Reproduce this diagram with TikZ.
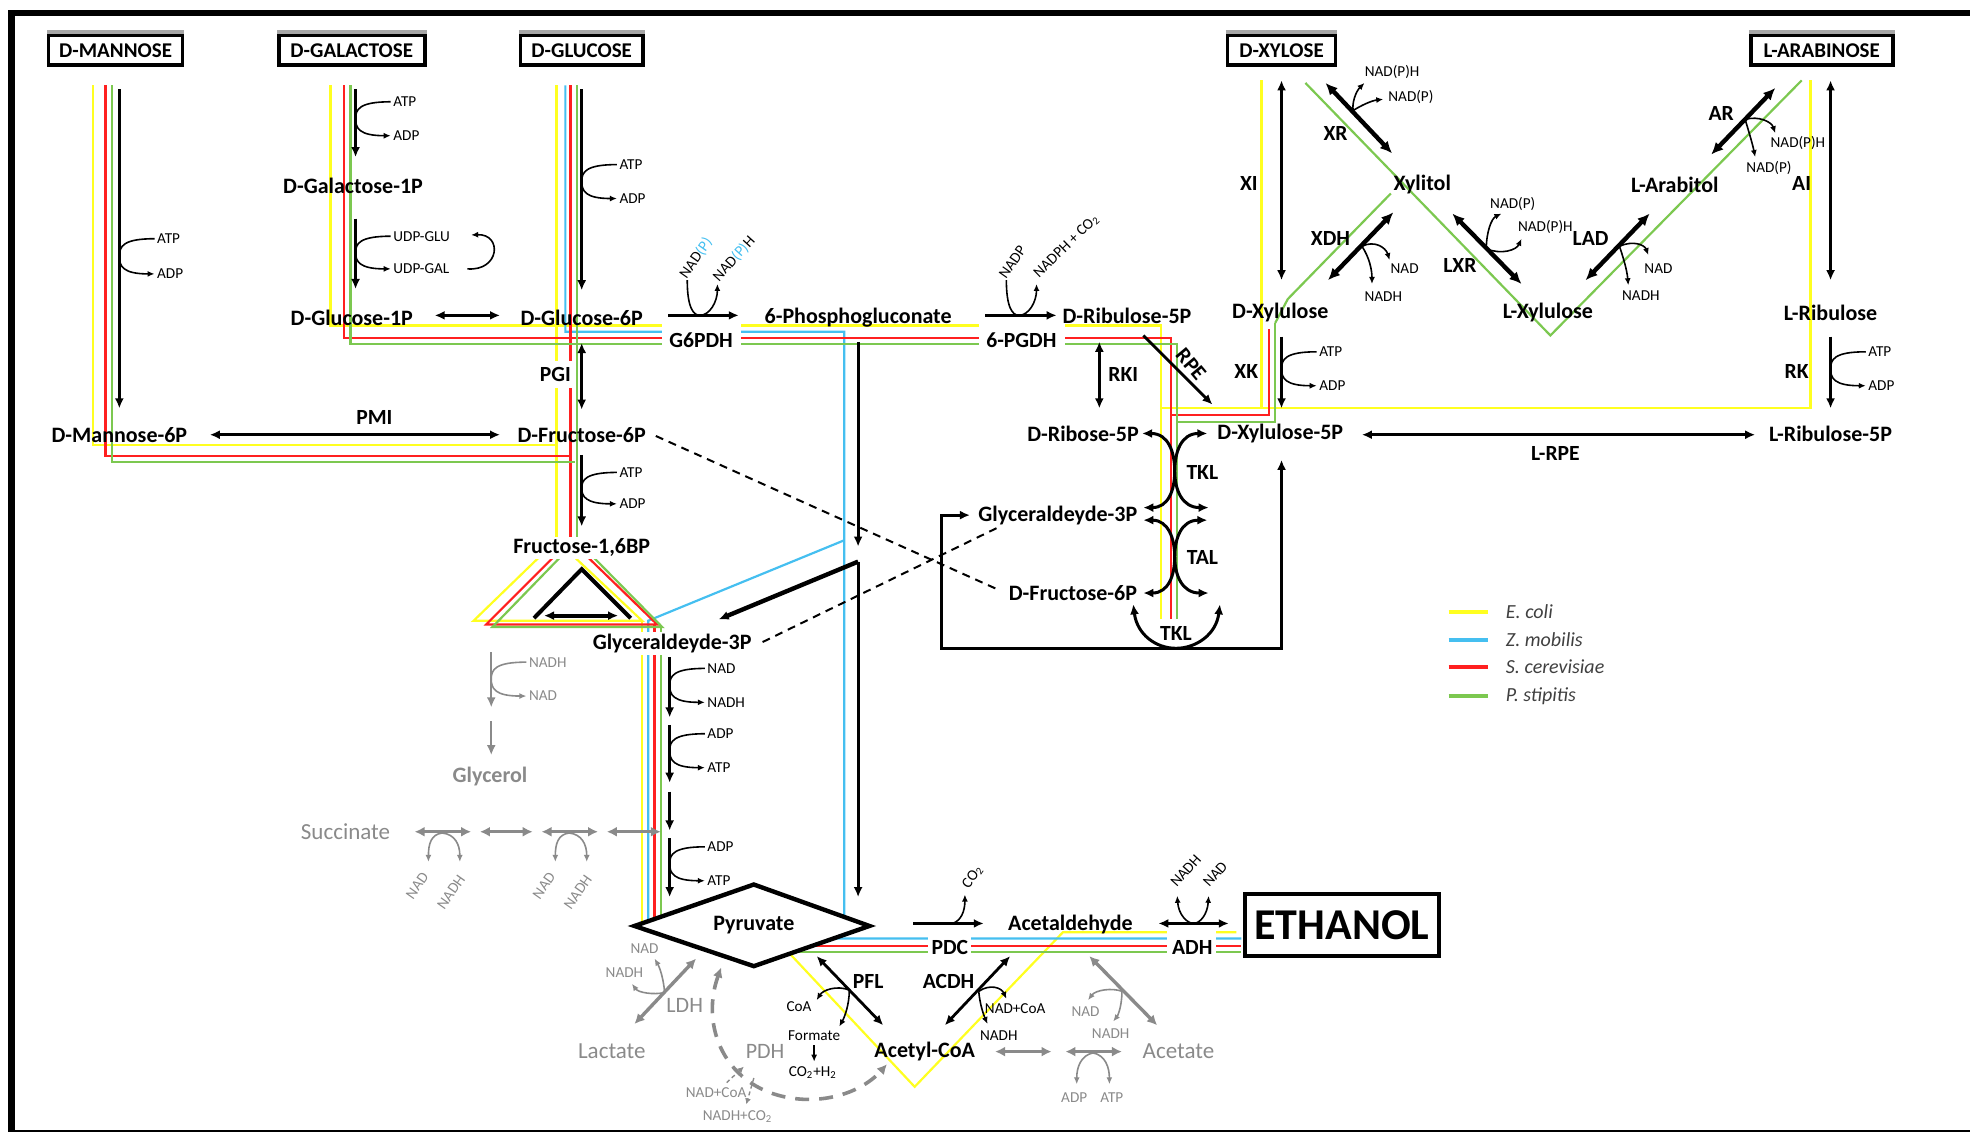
\documentclass[tikz,border=0pt]{standalone}
\usepackage{fontspec}
\setmainfont{Carlito}
\usetikzlibrary{arrows.meta}
\definecolor{cY}{HTML}{FFFF20}
\definecolor{cB}{HTML}{45BFF0}
\definecolor{cR}{HTML}{FF2020}
\definecolor{cG}{HTML}{7CC850}
\definecolor{cGr}{HTML}{8A8A8A}
\newcommand\sidecof[6][black]{%
  \draw[cof,#1] (#2+28,#3) .. controls (#2+3,#3) and (#2,#3+6) .. (#2,{(#3+#4)/2}) .. controls (#2,#4-6) and (#2+3,#4) .. (#2+28,#4);
  \node[sm,#1,anchor=west] at (#2+29,#3) {#5};
  \node[sm,#1,anchor=west] at (#2+29,#4) {#6};}
\begin{document}
\begin{tikzpicture}[x=0.628pt,y=-0.628pt,
 met/.style={font=\bfseries\fontsize{11}{12}\selectfont, inner sep=1pt},
 metg/.style={font=\fontsize{11.5}{12}\selectfont, inner sep=1pt, cGr},
 enz/.style={font=\bfseries\fontsize{10.8}{11}\selectfont, inner sep=1pt},
 sm/.style={font=\fontsize{7.6}{8}\selectfont, inner sep=0.5pt},
 src/.style={draw, line width=1.8pt, font=\bfseries\fontsize{10.5}{12}\selectfont, minimum height=15pt, inner xsep=2pt, fill=white},
 shd/.style={line width=1.8pt, black!35},
 rx/.style={line width=1.4pt, -{Latex[length=5pt,width=4.5pt]}},
 rxx/.style={line width=1.4pt, {Latex[length=5pt,width=4.5pt]}-{Latex[length=5pt,width=4.5pt]}},
 rxT/.style={line width=2.2pt, {Latex[length=6pt,width=5.5pt]}-{Latex[length=6pt,width=5.5pt]}},
 tk/.style={line width=1.5pt, {Latex[length=5pt,width=4.5pt]}-{Latex[length=5pt,width=4.5pt]}},
 gx/.style={line width=1.7pt, cGr, {Latex[length=5pt,width=5pt]}-{Latex[length=5pt,width=5pt]}},
 cof/.style={line width=0.8pt, -{Latex[length=3.5pt,width=3pt]}},
 cofx/.style={line width=0.8pt, {Latex[length=3.5pt,width=3pt]}-{Latex[length=3.5pt,width=3pt]}},
 lY/.style={line width=1.1pt, cY}, lB/.style={line width=1.1pt, cB},
 lR/.style={line width=1.1pt, cR}, lG/.style={line width=1.1pt, cG},
 dsh/.style={line width=1pt, dash pattern=on 4pt off 3pt},
]
\useasboundingbox (0,0) rectangle (1568,902);
% frame
\fill (6,8) rectangle (1568,13);
\fill (6,8) rectangle (12,901);
\fill (6,899) rectangle (1568,901);

% ---------- coloured routes
% yellow (E. coli)
\draw[lY] (74,68) -- (74,354) -- (443,354);
\draw[lY] (263,68) -- (263,259) -- (924,259) -- (924,493);
\draw[lY] (443,68) -- (443,430);
\draw[lY] (443,430) -- (377,494) -- (511,494) -- cycle;
\draw[lY] (511,494) -- (511,740);
\draw[lY] (1004,64) -- (1004,325);
\draw[lY] (1441,64) -- (1441,325) -- (924,325);
\draw[lY] (622,752) -- (728,865) -- (846,742) -- (984,742);
% blue (Z. mobilis)
\draw[lB] (450,68) -- (450,264) -- (672,264) -- (672,740) -- (660,747) -- (988,747);
\draw[lB] (672,430) -- (516,494) -- (516,740);
% red (S. cerevisiae)
\draw[lR] (84,68) -- (84,363) -- (454,363);
\draw[lR] (274,68) -- (274,269) -- (932,269) -- (932,493);
\draw[lR] (454,68) -- (454,430);
\draw[lR] (454,430) -- (387,497) -- (523,497) -- cycle;
\draw[lR] (521,497) -- (521,740);
\draw[lR] (1010,262) -- (1010,330) -- (932,330);
\draw[lR] (620,753) -- (988,753);
% green (P. stipitis)
\draw[lG] (89,68) -- (89,368) -- (458,368);
\draw[lG] (279,68) -- (279,274) -- (937,274) -- (937,493);
\draw[lG] (459,68) -- (459,430);
\draw[lG] (459,430) -- (392,499) -- (527,499) -- cycle;
\draw[lG] (526,499) -- (526,740);
\draw[lG] (1015,257) -- (1015,336) -- (937,336);
\draw[lG] (1039,66) -- (1234,267) -- (1434,64);
\draw[lG] (1107,154) -- (1025,238) -- (1015,257);
\draw[lG] (610,758) -- (988,758);

% gaps under enzyme labels
\fill[white] (527,255) rectangle (590,281);
\fill[white] (779,255) rectangle (848,281);
\fill[white] (428,287) rectangle (456,309);
\fill[white] (739,743) rectangle (773,763);
\fill[white] (929,739) rectangle (968,763);

% ---------- source boxes
\node[src, minimum width=67pt] (man) at (92,40) {D-MANNOSE};
\node[src, minimum width=73pt] (gal) at (280,40) {D-GALACTOSE};
\node[src, minimum width=61pt] (glc) at (463,40) {D-GLUCOSE};
\node[src, minimum width=54pt] (xyl) at (1020,40) {D-XYLOSE};
\node[src, minimum width=71pt] (ara) at (1450,40) {L-ARABINOSE};
\foreach \b in {man,gal,glc,xyl,ara}
  \draw[shd] ([yshift=0.7pt]\b.north west) -- ([yshift=0.7pt]\b.north east);

% ---------- black reactions
\draw[rx] (95,71) -- (95,325);
\sidecof{95}{190}{218}{ATP}{ADP}
\draw[rx] (283,71) -- (283,125);
\sidecof{283}{81}{108}{ATP}{ADP}
\draw[rx] (283,174) -- (283,230);
\sidecof{283}{188}{214}{UDP-GLU}{UDP-GAL}
\draw[cof] (372,214) .. controls (398,216) and (400,186) .. (375,187);
\draw[rxx] (346,251) -- (398,251);
\draw[rx] (463,71) -- (463,231);
\sidecof{463}{131}{158}{ATP}{ADP}
\draw[rxx] (463,273) -- (463,326);
\draw[rxx] (167,346) -- (398,346);
\draw[rx] (463,362) -- (463,419);
\sidecof{463}{376}{401}{ATP}{ADP}
% aldolase / TPI triangle
\draw[line width=2pt] (425,492) -- (463,453) -- (502,492);
\draw[rxx, line width=2pt] (433,490) -- (492,490);
% lower glycolysis
\draw[rx] (533,523) -- (533,571);
\sidecof{533}{532}{559}{NAD}{NADH}
\draw[rx] (533,577) -- (533,623);
\sidecof{533}{584}{611}{ADP}{ATP}
\draw[rx] (533,630) -- (533,661);
\draw[rx] (533,667) -- (533,714);
\sidecof{533}{674}{701}{ADP}{ATP}
% glycerol branch
\draw[rx,cGr,line width=1pt] (391,519) -- (391,563);
\sidecof[cGr]{391}{527}{554}{NADH}{NAD}
\draw[rx,cGr,line width=1pt] (391,574) -- (391,601);

% oxidative PPP
\draw[rx] (532,251) -- (588,251);
\draw[cof] (547,223) .. controls (547,245) and (552,251) .. (557,251) .. controls (565,251) and (571,240) .. (571,226);
\node[sm,rotate=55,anchor=west] at (543,221) {NAD\textcolor{cB}{(P)}};
\node[sm,rotate=48,anchor=west] at (569,223) {NAD\textcolor{cB}{(P)}H};
\draw[rx] (784,251) -- (841,251);
\draw[cof] (801,223) .. controls (801,245) and (806,251) .. (811,251) .. controls (819,251) and (825,240) .. (825,226);
\node[sm,rotate=55,anchor=west] at (797,221) {NADP};
\node[sm,rotate=44,anchor=west] at (824,220) {NADPH + CO\textsubscript{2}};
% ED pathway
\draw[rx] (683,272) -- (683,435);
\draw[rx] (683,447) -- (683,714);
\draw[rx, line width=2.2pt] (683,447) -- (572,493);
% dashed links
\draw[dsh] (522,347) -- (796,470);
\draw[dsh] (607,511) -- (796,419);

% non-oxidative PPP
\draw[rxx] (875,272) -- (875,325);
\draw[rx] (910,267) -- (965,322);
\draw[tk] (909,345) .. controls (930,345) and (935,360) .. (935,375) .. controls (935,390) and (941,404) .. (962,404);
\draw[tk] (961,345) .. controls (940,345) and (935,360) .. (935,375) .. controls (935,390) and (930,404) .. (910,404);
\draw[tk] (910,414) .. controls (930,414) and (935,429) .. (935,443) .. controls (935,458) and (941,472) .. (962,472);
\draw[tk] (961,414) .. controls (940,414) and (935,429) .. (935,443) .. controls (935,458) and (930,472) .. (910,472);
\draw[tk] (902,481) .. controls (905,505) and (920,516) .. (936,516) .. controls (952,516) and (968,505) .. (971,481);
\draw[tk] (772,410) -- (749,410) -- (749,516) -- (1020,516) -- (1020,366);

% xylose / arabinose
\draw[rxx] (1020,64) -- (1020,223);
\draw[rx] (1020,268) -- (1020,325);
\sidecof{1020}{280}{307}{ATP}{ADP}
\draw[rxx] (1457,64) -- (1457,223);
\draw[rx] (1457,268) -- (1457,325);
\sidecof{1457}{280}{307}{ATP}{ADP}
\draw[rxx] (1084,346) -- (1397,346);
\draw[rxT] (1055,66) -- (1108,122);
\draw[rxT] (1057,223) -- (1109,169);
\draw[rxT] (1156,170) -- (1211,226);
\draw[rxT] (1262,223) -- (1313,170);
\draw[rxT] (1362,123) -- (1413,70);
\draw[cofx] (1086,66) .. controls (1079,73) and (1076,82) .. (1077,88) .. controls (1083,84) and (1092,80) .. (1101,79);
\node[sm] at (1108,57) {NAD(P)H};
\node[sm] at (1123,77) {NAD(P)};
\draw[cof] (1084,196) .. controls (1094,191) and (1103,197) .. (1106,207);
\draw[cof] (1084,196) .. controls (1090,205) and (1092,215) .. (1092,226);
\node[sm] at (1118,214) {NAD};
\node[sm] at (1101,236) {NADH};
\draw[cof] (1183,198) .. controls (1183,185) and (1187,174) .. (1195,170);
\draw[cof] (1183,198) .. controls (1195,203) and (1207,199) .. (1211,190);
\node[sm] at (1204,162) {NAD(P)};
\node[sm] at (1230,181) {NAD(P)H};
\draw[cof] (1289,196) .. controls (1300,191) and (1309,195) .. (1312,203);
\draw[cof] (1289,196) .. controls (1292,205) and (1295,215) .. (1296,227);
\node[sm] at (1320,214) {NAD};
\node[sm] at (1306,235) {NADH};
\draw[cof] (1389,95) .. controls (1400,92) and (1410,97) .. (1413,106);
\draw[cof] (1389,95) .. controls (1392,105) and (1395,115) .. (1397,125);
\node[sm] at (1431,114) {NAD(P)H};
\node[sm] at (1408,134) {NAD(P)};

% ---------- pyruvate and fermentation
\draw[line width=2.2pt, fill=white] (505,737) -- (600,704) -- (692,737) -- (600,769) -- cycle;
\node[met] (pyr) at (600,736) {Pyruvate};
\draw[rx] (727,735) -- (783,735);
\draw[cof] (758,735) .. controls (765,733) and (768,725) .. (768,712);
\node[sm,rotate=55,anchor=west] at (768,707) {CO\textsubscript{2}};
\draw[rxx] (922,735) -- (978,735);
\draw[cofx] (937,713) .. controls (938,728) and (945,735) .. (950,735) .. controls (955,735) and (961,728) .. (962,713);
\node[sm,rotate=48,anchor=west] at (933,705) {NADH};
\node[sm,rotate=48,anchor=west] at (959,705) {NAD};
\draw[rxx] (752,816) -- (804,761);
\draw[cof] (779,789) .. controls (788,783) and (797,786) .. (801,795);
\draw[cof] (779,789) .. controls (780,800) and (783,808) .. (786,815);
\node[sm] at (808,803) {NAD+CoA};
\node[sm] at (795,824) {NADH};
\draw[rxx] (650,761) -- (703,816);
\draw[cof] (676,788) .. controls (666,784) and (655,788) .. (650,796);
\draw[cof] (676,788) .. controls (676,800) and (672,810) .. (668,817);
\node[sm] at (636,801) {CoA};
\node[sm] at (648,824) {Formate};
\draw[cof] (648,832) -- (648,845);
\node[sm] at (647,854) {CO\textsubscript{2}+H\textsubscript{2}};
% grey side routes
\draw[gx] (505,815) -- (554,763);
\draw[cof,cGr] (529,790) .. controls (528,778) and (525,770) .. (521,763);
\draw[cof,cGr] (529,790) .. controls (520,792) and (508,790) .. (503,783);
\node[sm,cGr] at (513,755) {NAD};
\node[sm,cGr] at (497,774) {NADH};
\draw[cGr, line width=1.8pt, dash pattern=on 7pt off 5pt, {Latex[length=5pt,width=5pt]}-{Latex[length=5pt,width=5pt]}] (574,770) .. controls (556,820) and (580,872) .. (640,875) .. controls (668,876) and (690,865) .. (706,847);
\draw[cGr, line width=0.7pt, dash pattern=on 2pt off 1.5pt, {Latex[length=3pt,width=3pt]}-] (592,849) -- (578,862);
\draw[cGr, line width=0.7pt, dash pattern=on 2pt off 1.5pt, -{Latex[length=3pt,width=3pt]}] (600,858) -- (594,879);
\node[sm,cGr] at (570,870) {NAD+CoA};
\node[sm,cGr] at (587,889) {NADH+CO\textsubscript{2}};
\draw[gx] (867,761) -- (921,816);
\draw[cof,cGr] (893,789) .. controls (885,786) and (872,788) .. (866,796);
\draw[cof,cGr] (893,789) .. controls (893,800) and (890,808) .. (886,813);
\node[sm,cGr] at (864,805) {NAD};
\node[sm,cGr] at (884,823) {NADH};
\draw[gx] (792,837) -- (837,837);
\draw[gx] (848,837) -- (893,837);
\draw[cof,cGr] (870,838) .. controls (860,840) and (857,850) .. (857,863);
\draw[cof,cGr] (870,838) .. controls (880,840) and (883,850) .. (883,863);
\node[sm,cGr] at (855,874) {ADP};
\node[sm,cGr] at (885,874) {ATP};
\draw[gx] (330,662) -- (375,662);
\draw[gx] (382,662) -- (424,662);
\draw[gx] (431,662) -- (476,662);
\draw[gx] (483,662) -- (526,662);
\draw[cof,cGr] (352,663) .. controls (343,664) and (341,672) .. (341,686);
\draw[cof,cGr] (352,663) .. controls (362,664) and (366,672) .. (366,686);
\draw[cof,cGr] (453,663) .. controls (444,664) and (442,672) .. (442,686);
\draw[cof,cGr] (453,663) .. controls (463,664) and (467,672) .. (467,686);
\node[sm,cGr,rotate=55] at (332,705) {NAD};
\node[sm,cGr,rotate=55] at (359,710) {NADH};
\node[sm,cGr,rotate=55] at (433,705) {NAD};
\node[sm,cGr,rotate=55] at (460,710) {NADH};

% ---------- metabolite labels
\node[met] (gal1p) at (281,148) {D-Galactose-1P};
\node[met] (glc1p) at (280,253) {D-Glucose-1P};
\node[met] (g6p) at (463,253) {D-Glucose-6P};
\node[met] (pg) at (683,253) {6-Phosphogluconate};
\node[met] (ru5p) at (897,251) {D-Ribulose-5P};
\node[met] (xylu) at (1019,249) {D-Xylulose};
\node[met] (xylt) at (1132,147) {Xylitol};
\node[met] (arab) at (1333,147) {L-Arabitol};
\node[met] (lxylu) at (1232,249) {L-Xylulose};
\node[met] (lribu) at (1457,249) {L-Ribulose};
\node[met] (m6p) at (95,346) {D-Mannose-6P};
\node[met] (f6p) at (463,346) {D-Fructose-6P};
\node[met] (r5p) at (862,345) {D-Ribose-5P};
\node[met] (x5p) at (1019,345) {D-Xylulose-5P};
\node[met] (lr5p) at (1457,345) {L-Ribulose-5P};
\node[met] (g3pb) at (842,410) {Glyceraldeyde-3P};
\node[met] (f6pb) at (854,472) {D-Fructose-6P};
\node[met, fill=white] (fbp) at (463,436) {Fructose-1,6BP};
\node[met, fill=white] (g3p) at (535,512) {Glyceraldeyde-3P};
\node[met, cGr] (glyc) at (390,618) {Glycerol};
\node[metg] (succ) at (275,662) {Succinate};
\node[met] (acald) at (852,736) {Acetaldehyde};
\node[metg] (lac) at (487,837) {Lactate};
\node[met] (accoa) at (736,837) {Acetyl-CoA};
\node[metg] (acet) at (938,837) {Acetate};
\node[draw, line width=1.8pt, font=\bfseries\fontsize{22}{24}\selectfont, minimum width=97pt, minimum height=31pt, inner sep=1pt] (etoh) at (1068,736) {ETHANOL};

% ---------- enzyme labels
\node[enz] (g6pdh) at (558,271) {G6PDH};
\node[enz] (pgdh) at (813,271) {6-PGDH};
\node[enz] (pgi) at (442,298) {PGI};
\node[enz] (pmi) at (298,332) {PMI};
\node[enz] (rki) at (894,298) {RKI};
\node[enz, rotate=-50] (rpe) at (948,290) {RPE};
\node[enz] (xi) at (994,146) {XI};
\node[enz] (xr) at (1063,106) {XR};
\node[enz] (xdh) at (1059,190) {XDH};
\node[enz] (lxr) at (1162,211) {LXR};
\node[enz] (lad) at (1266,190) {LAD};
\node[enz] (ar) at (1370,90) {AR};
\node[enz] (ai) at (1434,146) {AI};
\node[enz] (xk) at (992,296) {XK};
\node[enz] (rk) at (1430,296) {RK};
\node[enz] (lrpe) at (1238,361) {L-RPE};
\node[enz] (tkl1) at (957,376) {TKL};
\node[enz] (tal) at (957,444) {TAL};
\node[enz] (tkl2) at (936,504) {TKL};
\node[enz] (pdc) at (756,754) {PDC};
\node[enz] (adh) at (949,754) {ADH};
\node[enz] (acdh) at (755,781) {ACDH};
\node[enz] (pfl) at (691,781) {PFL};
\node[enz, font=\fontsize{11}{12}\selectfont, cGr] (ldh) at (545,800) {LDH};
\node[enz, font=\fontsize{11}{12}\selectfont, cGr] (pdh) at (609,837) {PDH};

% ---------- legend
\draw[cY, line width=2pt] (1153,487) -- (1184,487);
\draw[cB, line width=2pt] (1153,509) -- (1184,509);
\draw[cR, line width=2pt] (1153,531) -- (1184,531);
\draw[cG, line width=2pt] (1153,554) -- (1184,554);
\node[anchor=west, font=\itshape\fontsize{10}{11}\selectfont, text=black!75] (lg1) at (1193,487) {E. coli};
\node[anchor=west, font=\itshape\fontsize{10}{11}\selectfont, text=black!75] (lg2) at (1193,509) {Z. mobilis};
\node[anchor=west, font=\itshape\fontsize{10}{11}\selectfont, text=black!75] (lg3) at (1193,531) {S. cerevisiae};
\node[anchor=west, font=\itshape\fontsize{10}{11}\selectfont, text=black!75] (lg4) at (1193,554) {P. stipitis};
\end{tikzpicture}
\end{document}
